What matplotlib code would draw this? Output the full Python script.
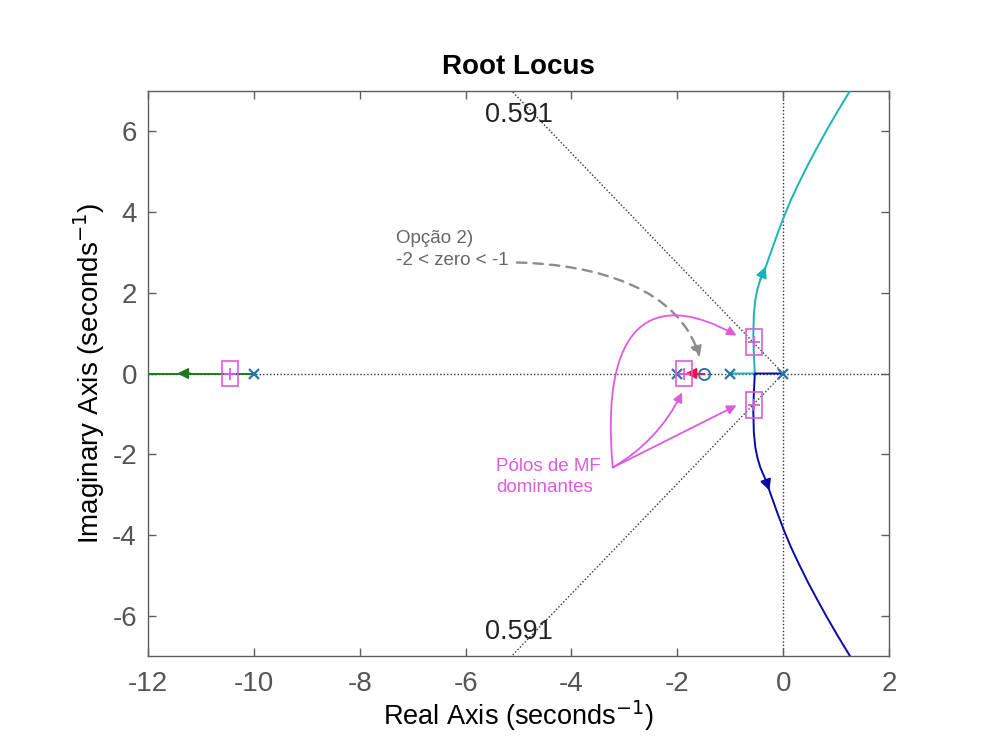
import matplotlib
matplotlib.use("Agg")
import numpy as np
import matplotlib.pyplot as plt
from matplotlib.path import Path
from matplotlib.patches import FancyArrowPatch, Rectangle

plt.rcParams["font.family"] = ["Liberation Sans", "DejaVu Sans"]
plt.rcParams["axes.unicode_minus"] = False

# polos e zeros de malha aberta
poles_ol = [-10.0, -2.0, -1.0, 0.0]
zeros_ol = [-1.5]

# ramos do lugar das raizes
green_x = [-10.0, -12.0]
green_y = [0.0, 0.0]
red_x = [-2.0, -1.5]
red_y = [0.0, 0.0]
cyan_x = [-1.0, -0.535, -0.554, -0.564, -0.554, -0.526, -0.488, -0.431, -0.327, -0.214,
          -0.100, 0.013, 0.146, 0.297, 0.467, 0.638, 0.827, 1.035, 1.262]
cyan_y = [0.0, 0.0, 0.47, 0.96, 1.46, 1.83, 2.08, 2.33, 2.65, 3.07,
          3.49, 3.88, 4.30, 4.72, 5.17, 5.59, 6.04, 6.51, 7.0]
blue_x = [0.0, -0.535, -0.554, -0.564, -0.554, -0.526, -0.488, -0.431, -0.327, -0.260,
          -0.214, -0.100, 0.013, 0.146, 0.297, 0.467, 0.638, 0.827, 1.035, 1.262]
blue_y = [0.0, 0.0, -0.47, -0.96, -1.46, -1.83, -2.08, -2.33, -2.65, -2.90,
          -3.07, -3.49, -3.88, -4.30, -4.72, -5.17, -5.59, -6.04, -6.51, -7.0]

# polos de malha fechada escolhidos
cl_x = [-10.45, -1.88, -0.555, -0.555]
cl_y = [0.0, 0.0, 0.78, -0.78]

zeta = 0.591

fig = plt.figure(figsize=(9.83, 7.38), dpi=100)
ax = fig.add_axes([0.1506, 0.1111, 0.7538, 0.7656])
ax.set_xlim(-12, 2)
ax.set_ylim(-7, 7)

# grelha: eixos e linha de amortecimento
ax.axhline(0, color="#333333", ls=(0, (1, 1.5)), lw=1.0, zorder=1)
ax.axvline(0, color="#333333", ls=(0, (1, 1.5)), lw=1.0, zorder=1)
th = np.arccos(zeta)
for s in (1, -1):
    ax.plot([0, -20 * np.cos(th)], [0, s * 20 * np.sin(th)], color="#333333",
            ls=(0, (1, 1.5)), lw=1.0, zorder=1)
ax.text(-5.0, 6.4, "0.591", fontsize=19.5, color="#222222", ha="center", va="center")
ax.text(-5.0, -6.4, "0.591", fontsize=19.5, color="#222222", ha="center", va="center")

lw = 1.4
ax.plot(green_x, green_y, color="#1E7A1E", lw=lw, zorder=3)
ax.plot(red_x, red_y, color="#FF0A3C", lw=lw, zorder=3)
ax.plot(cyan_x, cyan_y, color="#19B4B4", lw=lw, zorder=3)
ax.plot(blue_x, blue_y, color="#0A0AA8", lw=lw, zorder=3)

# setas nos ramos
def branch_arrow(x0, y0, x1, y1, c):
    ax.annotate("", xy=(x1, y1), xytext=(x0, y0), zorder=4,
                arrowprops=dict(arrowstyle="-|>", color=c, lw=lw, mutation_scale=16,
                                shrinkA=0, shrinkB=0))

branch_arrow(-11.2, 0, -11.45, 0, "#1E7A1E")
branch_arrow(-1.65, 0, -1.85, 0, "#FF0A3C")
branch_arrow(cyan_x[7], cyan_y[7], cyan_x[8], cyan_y[8], "#19B4B4")
branch_arrow(blue_x[8], blue_y[8], blue_x[9], blue_y[9], "#0A0AA8")

ax.plot(poles_ol, [0] * len(poles_ol), "x", color="#2877A8", ms=7, mew=1.6, zorder=5)
ax.plot(zeros_ol, [0] * len(zeros_ol), "o", color="#2877A8", mfc="none", ms=8, mew=1.4, zorder=5)

pink = "#DE5BDE"
ax.plot(cl_x, cl_y, "+", color=pink, ms=9, mew=1.3, zorder=6)
for cx, cy in zip(cl_x, cl_y):
    ax.add_patch(Rectangle((cx - 0.15, cy - 0.32), 0.30, 0.64, fill=False,
                           ec=pink, lw=1.2, zorder=6))

# anotacao cinzenta
ax.text(-7.31, 3.07, "Opção 2)\n-2 < zero < -1", fontsize=13.5, color="#666666",
        ha="left", va="center", linespacing=1.35)
gpath = Path([(-5.03, 2.75), (-3.47, 2.70), (-1.96, 2.08), (-1.58, 0.40)],
             [Path.MOVETO, Path.CURVE4, Path.CURVE4, Path.CURVE4])
ax.add_patch(FancyArrowPatch(path=gpath, arrowstyle="-|>", mutation_scale=16,
                             color="#8C8C8C", lw=1.7, ls=(0, (4, 3)), zorder=7))

# anotacao rosa
ax.text(-5.42, -2.57, "Pólos de MF\ndominantes", fontsize=13.5, color=pink,
        ha="left", va="center", linespacing=1.3)
px0, py0 = -3.22, -2.33
lpath = Path([(px0, py0), (-3.47, 1.34), (-2.43, 2.08), (-0.88, 0.94)],
             [Path.MOVETO, Path.CURVE4, Path.CURVE4, Path.CURVE4])
ax.add_patch(FancyArrowPatch(path=lpath, arrowstyle="-|>", mutation_scale=14,
                             color=pink, lw=1.3, zorder=7))
ax.add_patch(FancyArrowPatch((px0, py0), (-1.91, -0.47), arrowstyle="-|>",
                             connectionstyle="arc3,rad=0.15", mutation_scale=14,
                             color=pink, lw=1.3, shrinkA=0, shrinkB=0, zorder=7))
ax.add_patch(FancyArrowPatch((px0, py0), (-0.88, -0.79), arrowstyle="-|>",
                             mutation_scale=14, color=pink, lw=1.3,
                             shrinkA=0, shrinkB=0, zorder=7))

# eixos estilo MATLAB
gray = "#5E5E5E"
for sp in ax.spines.values():
    sp.set_color(gray)
    sp.set_linewidth(1.0)
ax.set_xticks(np.arange(-12, 3, 2))
ax.set_yticks(np.arange(-6, 7, 2))
ax.tick_params(direction="in", top=True, right=True, length=6, width=1.0,
               colors=gray, labelsize=20, labelcolor="#555555")
ax.tick_params(axis="x", pad=11)
ax.tick_params(axis="y", pad=8)
ax.set_title("Root Locus", fontsize=20, fontweight="bold", pad=12)
ax.set_xlabel("Real Axis (seconds$^{-1}$)", fontsize=19.5, labelpad=1)
ax.set_ylabel("Imaginary Axis (seconds$^{-1}$)", fontsize=20, labelpad=4)

fig.savefig("out.png", dpi=100)
